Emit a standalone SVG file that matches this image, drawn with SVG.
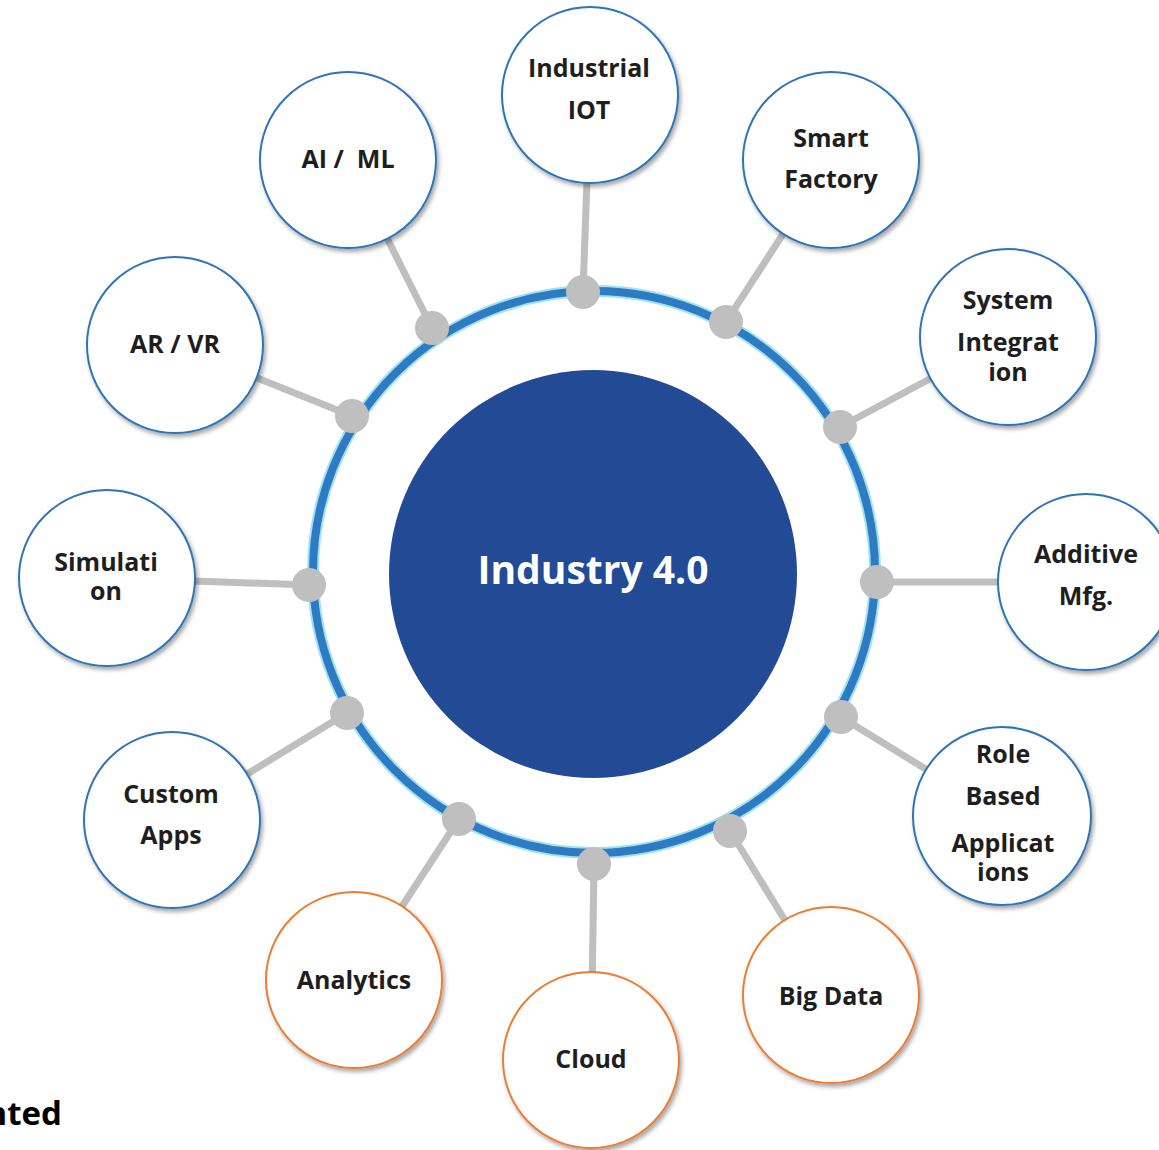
<svg xmlns="http://www.w3.org/2000/svg" width="1159" height="1150" viewBox="0 0 1159 1150">
<defs>
<filter id="sh" x="-20%" y="-20%" width="140%" height="140%">
<feDropShadow dx="2" dy="3" stdDeviation="2" flood-color="#000" flood-opacity="0.35"/>
</filter>
<style>
.n{fill:#fff;stroke-width:2;filter:url(#sh)}
.b{stroke:#2E75B6}
.o{stroke:#ED7D31}
.t{font-family:"Open Sans","Noto Sans",sans-serif;font-weight:700;font-size:25px;fill:#1e1e1e;text-anchor:middle;white-space:pre}
.c{stroke:#BFBFBF;stroke-width:7;fill:none}
.d{fill:#BFBFBF}
</style>
</defs>
<rect width="1159" height="1150" fill="#fff"/>
<g id="ring">
<circle cx="594" cy="572" r="281" fill="none" stroke="#9EE3EE" stroke-width="12"/>
<circle cx="594" cy="572" r="281" fill="none" stroke="#2E7BC4" stroke-width="8"/>
</g>
<g id="connectors">
<line class="c" x1="583" y1="292" x2="590" y2="95"/>
<line class="c" x1="726" y1="322" x2="831" y2="160"/>
<line class="c" x1="840" y1="427" x2="1008" y2="337"/>
<line class="c" x1="877" y1="582" x2="1086" y2="582"/>
<line class="c" x1="841" y1="717" x2="1002" y2="816"/>
<line class="c" x1="730" y1="831" x2="831" y2="995"/>
<line class="c" x1="594" y1="864" x2="591" y2="1060"/>
<line class="c" x1="459" y1="819" x2="354" y2="980"/>
<line class="c" x1="347" y1="713" x2="172" y2="820"/>
<line class="c" x1="309" y1="585" x2="107" y2="578"/>
<line class="c" x1="352" y1="416" x2="175" y2="345"/>
<line class="c" x1="432" y1="328" x2="348" y2="160"/>
<circle class="d" cx="583" cy="292" r="17"/>
<circle class="d" cx="726" cy="322" r="17"/>
<circle class="d" cx="840" cy="427" r="17"/>
<circle class="d" cx="877" cy="582" r="17"/>
<circle class="d" cx="841" cy="717" r="17"/>
<circle class="d" cx="730" cy="831" r="17"/>
<circle class="d" cx="594" cy="864" r="17"/>
<circle class="d" cx="459" cy="819" r="17"/>
<circle class="d" cx="347" cy="713" r="17"/>
<circle class="d" cx="309" cy="585" r="17"/>
<circle class="d" cx="352" cy="416" r="17"/>
<circle class="d" cx="432" cy="328" r="17"/>
</g>
<g id="center">
<circle cx="593" cy="574" r="204" fill="#234A95"/>
<text x="593" y="584" font-family="'Open Sans','Noto Sans',sans-serif" font-weight="700" font-size="39" fill="#fff" text-anchor="middle">Industry 4.0</text>
</g>
<g id="n-iot"><circle class="n b" cx="590" cy="95" r="88"/><text class="t" x="589" y="77">Industrial</text><text class="t" x="589" y="119">IOT</text></g>
<g id="n-smart"><circle class="n b" cx="831" cy="160" r="88"/><text class="t" x="831" y="147">Smart</text><text class="t" x="831" y="188">Factory</text></g>
<g id="n-sysint"><circle class="n b" cx="1008" cy="337" r="88"/><text class="t" x="1008" y="309">System</text><text class="t" x="1008" y="351">Integrat</text><text class="t" x="1008" y="381">ion</text></g>
<g id="n-additive"><circle class="n b" cx="1086" cy="582" r="88"/><text class="t" x="1086" y="563">Additive</text><text class="t" x="1086" y="605">Mfg.</text></g>
<g id="n-role"><circle class="n b" cx="1002" cy="816" r="89"/><text class="t" x="1003" y="763">Role</text><text class="t" x="1003" y="805">Based</text><text class="t" x="1003" y="852">Applicat</text><text class="t" x="1003" y="881">ions</text></g>
<g id="n-bigdata"><circle class="n o" cx="831" cy="995" r="88"/><text class="t" x="831" y="1005">Big Data</text></g>
<g id="n-cloud"><circle class="n o" cx="591" cy="1060" r="88"/><text class="t" x="591" y="1068">Cloud</text></g>
<g id="n-analytics"><circle class="n o" cx="354" cy="980" r="88"/><text class="t" x="354" y="989">Analytics</text></g>
<g id="n-custom"><circle class="n b" cx="172" cy="820" r="88"/><text class="t" x="171" y="803">Custom</text><text class="t" x="171" y="844">Apps</text></g>
<g id="n-sim"><circle class="n b" cx="107" cy="578" r="88"/><text class="t" x="106" y="571">Simulati</text><text class="t" x="106" y="600">on</text></g>
<g id="n-arvr"><circle class="n b" cx="175" cy="345" r="88"/><text class="t" x="175" y="353">AR / VR</text></g>
<g id="n-aiml"><circle class="n b" cx="348" cy="160" r="88"/><text class="t" x="348" y="168">AI /  ML</text></g>
<text x="62" y="1125" font-family="'Open Sans','Noto Sans',sans-serif" font-weight="700" font-size="33" fill="#000" text-anchor="end">nted</text>
</svg>
